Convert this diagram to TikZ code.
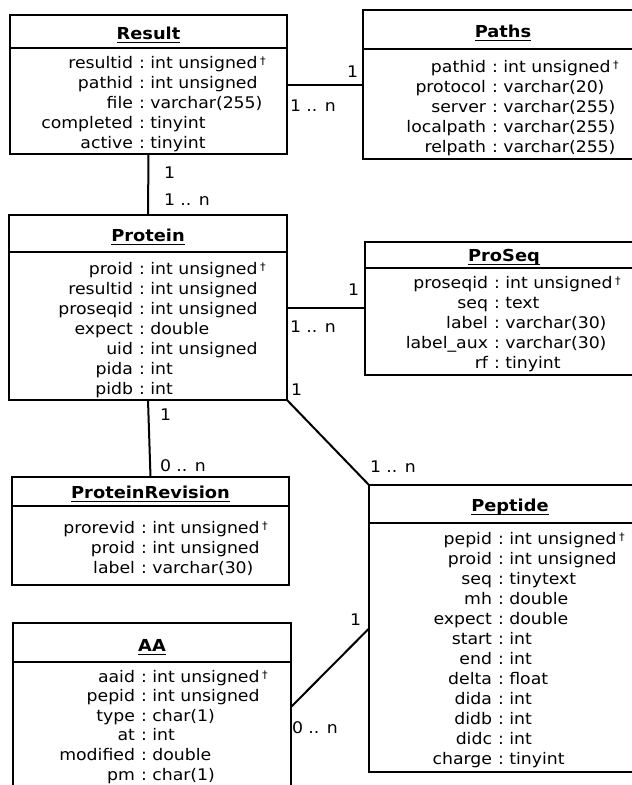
\documentclass[tikz,border=0pt]{standalone}
\usepackage{fontspec}
\usepackage{array}
\setmainfont{DejaVu Sans}[FakeStretch=1.08]
\usetikzlibrary{calc}

% small raised dagger marking the primary key
\newcommand{\pk}{\,\raisebox{3.5pt}{\fontsize{10.5}{10}\selectfont †}}

\tikzset{
  every node/.style={inner sep=0pt, outer sep=0pt},
  txt/.style={font=\fontsize{16}{20}\selectfont},
  frame/.style={draw=black, line width=1.1pt, fill=white},
  sepline/.style={draw=black, line width=2pt},
  titletext/.style={font=\fontsize{16.5}{20}\selectfont\bfseries},
  uline/.style={draw=black, line width=1.6pt},
  conn/.style={draw=black, line width=2pt},
  mult/.style={txt, anchor=base west},
}

% frame of a table: name, x1, y1, x2, y2, y of the header rule
\newcommand{\erframe}[6]{%
  \node[frame, minimum width={#4-#2}, minimum height={#5-#3}, anchor=north west] (#1) at (#2,#3) {};
  \draw[sepline] (#2,#6) -- (#4,#6);
}
% underlined table title: name, x, baseline, text
\newcommand{\ertitle}[4]{%
  \node[titletext, anchor=base] (#1) at (#2,#3) {#4};
  \draw[uline] ([yshift=-3.5pt]#1.base west) -- ([yshift=-3.5pt]#1.base east);
}
% column list: name, x of the colon, first baseline, row pitch, field names, field types
\newcommand{\errows}[6]{%
  \node[txt, anchor=base east] (#1n) at ({#2-9},#3)
    {\fontsize{16}{#4}\selectfont\begin{tabular}[t]{@{}r@{}}#5\end{tabular}};
  \node[txt, anchor=base west] (#1t) at ({#2-3},#3)
    {\fontsize{16}{#4}\selectfont\begin{tabular}[t]{@{}>{:\ }l@{}}#6\end{tabular}};
}

\begin{document}
\begin{tikzpicture}[x=1pt, y=-1pt]
\useasboundingbox (0,0) rectangle (632,785);
\fill[white] (0,0) rectangle (632,785);
\clip (0,0) rectangle (632,785);

% ---------- Result ----------
\erframe{result}{10}{15}{287}{154}{48}
\ertitle{resultT}{148.5}{39}{Result}
\errows{result}{142}{68}{20}
  {resultid\\pathid\\file\\completed\\active}
  {int unsigned\pk\\int unsigned\\varchar(255)\\tinyint\\tinyint}

% ---------- Paths ----------
\erframe{paths}{363}{10}{643}{159}{49}
\ertitle{pathsT}{503}{37}{Paths}
\errows{paths}{495}{72}{20}
  {pathid\\protocol\\server\\localpath\\relpath}
  {int unsigned\pk\\varchar(20)\\varchar(255)\\varchar(255)\\varchar(255)}

% ---------- Protein ----------
\erframe{protein}{9}{215}{287}{400}{252}
\ertitle{proteinT}{148}{241}{Protein}
\errows{protein}{142}{274}{20}
  {proid\\resultid\\proseqid\\expect\\uid\\pida\\pidb}
  {int unsigned\pk\\int unsigned\\int unsigned\\double\\int unsigned\\int\\int}

% ---------- ProSeq ----------
\erframe{proseq}{365}{242}{643}{375}{268}
\ertitle{proseqT}{504}{261}{ProSeq}
\errows{proseq}{497}{288}{20}
  {proseqid\\seq\\label\\label\_aux\\rf}
  {int unsigned\pk\\text\\varchar(30)\\varchar(30)\\tinyint}

% ---------- ProteinRevision ----------
\erframe{protrev}{12}{477}{289}{585}{506}
\ertitle{protrevT}{150.5}{498}{ProteinRevision}
\errows{protrev}{144}{533}{20}
  {prorevid\\proid\\label}
  {int unsigned\pk\\int unsigned\\varchar(30)}

% ---------- Peptide ----------
\erframe{peptide}{369}{485}{651}{772}{523}
\ertitle{peptideT}{510}{511}{Peptide}
\errows{peptide}{501}{544}{20}
  {pepid\\proid\\seq\\mh\\expect\\start\\end\\delta\\dida\\didb\\didc\\charge}
  {int unsigned\pk\\int unsigned\\tinytext\\double\\double\\int\\int\\float\\int\\int\\int\\tinyint}

% ---------- AA ----------
\erframe{aa}{13}{623}{291}{791}{662}
\ertitle{aaT}{152}{651}{AA}
\errows{aa}{144}{682}{19.6}
  {aaid\\pepid\\type\\at\\modified\\pm}
  {int unsigned\pk\\int unsigned\\char(1)\\int\\double\\char(1)}

% ---------- relations ----------
\draw[conn] (result.east) -- (result.east -| paths.west);
\draw[conn] (result.south) -- (protein.north);
\draw[conn] (protein.east) -- (protein.east -| proseq.west);
\draw[conn] (protein.south) -- (protrev.north);
\draw[conn] (protein.south east) -- (peptide.north west);
\draw[conn] (peptide.west) -- (aa.east);

% ---------- multiplicities ----------
\node[mult] (mRP1) at (347,77) {1};
\node[mult] (mRPn) at (290,111) {1 .. n};
\node[mult] (mRR1) at (164,178) {1};
\node[mult] (mRRn) at (164,205) {1 .. n};
\node[mult] (mPS1) at (348,295) {1};
\node[mult] (mPSn) at (290,332) {1 .. n};
\node[mult] (mPP1) at (291,395) {1};
\node[mult] (mPPn) at (370,472) {1 .. n};
\node[mult] (mPV1) at (160,420) {1};
\node[mult] (mPVn) at (160,471) {0 .. n};
\node[mult] (mPA1) at (350,625) {1};
\node[mult] (mPAn) at (292,733) {0 .. n};
\end{tikzpicture}
\end{document}
